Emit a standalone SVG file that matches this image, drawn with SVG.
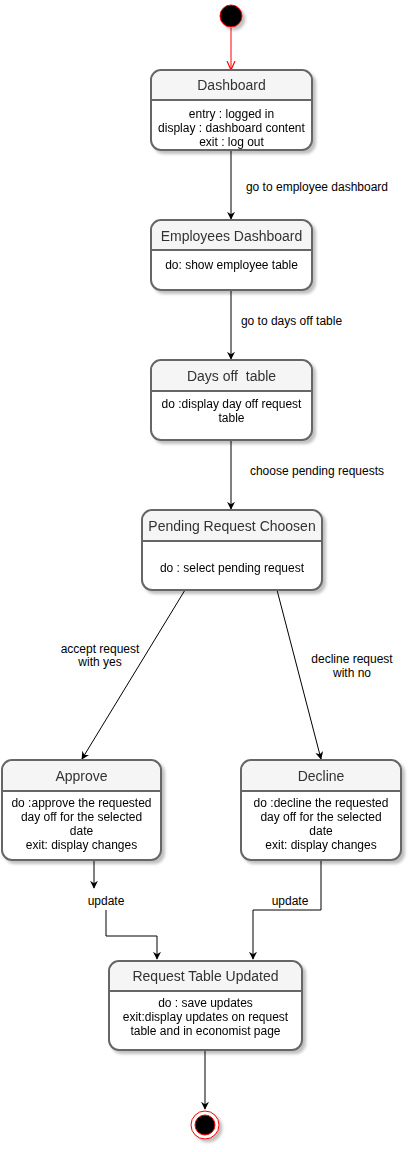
<svg xmlns="http://www.w3.org/2000/svg" width="413" height="1152" viewBox="0 0 413 1152">
<style>
.box{fill:#ffffff;stroke:#666666;stroke-width:2}
.hdr{fill:#f5f5f5;stroke:none}
.div{stroke:#666666;stroke-width:2}
.title{font-family:"Liberation Sans",Arial,sans-serif;font-size:14px;fill:#333333;text-anchor:middle;white-space:pre}
.body{font-family:"Liberation Sans",Arial,sans-serif;font-size:12px;fill:#000000;text-anchor:middle}
.lbl{font-family:"Liberation Sans",Arial,sans-serif;font-size:12px;fill:#000000;text-anchor:middle}
.edge{fill:none;stroke:#000000;stroke-width:1}
</style>
<defs>
<filter id="sh" x="-20%" y="-20%" width="150%" height="150%">
<feGaussianBlur in="SourceAlpha" stdDeviation="1.5"/>
<feOffset dx="3" dy="3" result="b"/>
<feComponentTransfer><feFuncA type="linear" slope="0.25"/></feComponentTransfer>
<feMerge><feMergeNode/><feMergeNode in="SourceGraphic"/></feMerge>
</filter>
<marker id="arr" viewBox="0 0 10 10" refX="9" refY="5" markerWidth="8" markerHeight="8" orient="auto" markerUnits="userSpaceOnUse">
<path d="M0,0 L10,5 L0,10 L3,5 Z" fill="#000000"/>
</marker>
<marker id="open" viewBox="0 0 10 10" refX="9" refY="5" markerWidth="10" markerHeight="10" orient="auto" markerUnits="userSpaceOnUse">
<path d="M0,1 L9,5 L0,9" fill="none" stroke="#ff0000" stroke-width="1.2"/>
</marker>
</defs>

<g id="connectors">
<line x1="231" y1="28" x2="231" y2="70" stroke="#ff0000" stroke-width="1" marker-end="url(#open)"/>
<line class="edge" x1="231" y1="150" x2="231" y2="219" marker-end="url(#arr)"/>
<text class="lbl" x="317" y="191">go to employee dashboard</text>
<line class="edge" x1="231" y1="290" x2="231" y2="359" marker-end="url(#arr)"/>
<text class="lbl" x="291.5" y="325">go to days off table</text>
<line class="edge" x1="231" y1="440" x2="231" y2="509" marker-end="url(#arr)"/>
<text class="lbl" x="317" y="475">choose pending requests</text>
<line class="edge" x1="185" y1="590" x2="82" y2="759" marker-end="url(#arr)"/>
<text class="lbl" x="100" y="653">accept request</text>
<text class="lbl" x="100" y="666">with yes</text>
<line class="edge" x1="277" y1="590" x2="321" y2="759" marker-end="url(#arr)"/>
<text class="lbl" x="352" y="663">decline request</text>
<text class="lbl" x="352" y="677">with no</text>
<line class="edge" x1="94" y1="860" x2="94" y2="888" marker-end="url(#arr)"/>
<text class="body" x="106" y="905">update</text>
<polyline class="edge" points="106,910 106,936 157,936 157,959" marker-end="url(#arr)"/>
<polyline class="edge" points="321,860 321,910 253,910 253,959" marker-end="url(#arr)"/>
<text class="body" x="290" y="905">update</text>
<line class="edge" x1="205" y1="1050" x2="205" y2="1109" marker-end="url(#arr)"/>
</g>

<g id="start">
<circle cx="231" cy="16" r="11" fill="#000000" stroke="#ff0000" stroke-width="1" filter="url(#sh)"/>
</g>

<g id="dashboard" filter="url(#sh)">
<rect class="box" x="151" y="70" width="161" height="80" rx="10"/>
<path class="hdr" d="M162,71 H301 A10,10 0 0 1 311,81 V99 H152 V81 A10,10 0 0 1 162,71 Z"/>
<line class="div" x1="151" y1="100" x2="312" y2="100"/>
<text class="title" x="231.5" y="90">Dashboard</text>
<text class="body" x="231.5" y="118">entry : logged in</text>
<text class="body" x="231.5" y="132">display : dashboard content</text>
<text class="body" x="231.5" y="146">exit : log out</text>
</g>

<g id="employees" filter="url(#sh)">
<rect class="box" x="151" y="220" width="161" height="70" rx="10"/>
<path class="hdr" d="M162,221 H301 A10,10 0 0 1 311,231 V249 H152 V231 A10,10 0 0 1 162,221 Z"/>
<line class="div" x1="151" y1="250" x2="312" y2="250"/>
<text class="title" x="231.5" y="241">Employees Dashboard</text>
<text class="body" x="231.5" y="269">do: show employee table</text>
</g>

<g id="daysoff" filter="url(#sh)">
<rect class="box" x="151" y="360" width="161" height="80" rx="10"/>
<path class="hdr" d="M162,361 H301 A10,10 0 0 1 311,371 V390 H152 V371 A10,10 0 0 1 162,361 Z"/>
<line class="div" x1="151" y1="391" x2="312" y2="391"/>
<text class="title" x="231.5" y="381" xml:space="preserve">Days off  table</text>
<text class="body" x="231.5" y="408">do :display day off request</text>
<text class="body" x="231.5" y="422">table</text>
</g>

<g id="pending" filter="url(#sh)">
<rect class="box" x="142" y="510" width="180" height="80" rx="10"/>
<path class="hdr" d="M153,511 H311 A10,10 0 0 1 321,521 V540 H143 V521 A10,10 0 0 1 153,511 Z"/>
<line class="div" x1="142" y1="541" x2="322" y2="541"/>
<text class="title" x="232" y="531">Pending Request Choosen</text>
<text class="body" x="232" y="572">do : select pending request</text>
</g>

<g id="approve" filter="url(#sh)">
<rect class="box" x="2" y="760" width="159" height="100" rx="10"/>
<path class="hdr" d="M13,761 H150 A10,10 0 0 1 160,771 V790 H3 V771 A10,10 0 0 1 13,761 Z"/>
<line class="div" x1="2" y1="791" x2="161" y2="791"/>
<text class="title" x="81.5" y="781">Approve</text>
<text class="body" x="81.5" y="807">do :approve the requested</text>
<text class="body" x="81.5" y="821">day off for the selected</text>
<text class="body" x="81.5" y="835">date</text>
<text class="body" x="81.5" y="849">exit: display changes</text>
</g>

<g id="decline" filter="url(#sh)">
<rect class="box" x="241" y="760" width="160" height="100" rx="10"/>
<path class="hdr" d="M252,761 H390 A10,10 0 0 1 400,771 V790 H242 V771 A10,10 0 0 1 252,761 Z"/>
<line class="div" x1="241" y1="791" x2="401" y2="791"/>
<text class="title" x="321" y="781">Decline</text>
<text class="body" x="321" y="807">do :decline the requested</text>
<text class="body" x="321" y="821">day off for the selected</text>
<text class="body" x="321" y="835">date</text>
<text class="body" x="321" y="849">exit: display changes</text>
</g>

<g id="updated" filter="url(#sh)">
<rect class="box" x="109" y="961" width="193" height="89" rx="10"/>
<path class="hdr" d="M120,962 H291 A10,10 0 0 1 301,972 V990 H110 V972 A10,10 0 0 1 120,962 Z"/>
<line class="div" x1="109" y1="991" x2="302" y2="991"/>
<text class="title" x="205.5" y="981">Request Table Updated</text>
<text class="body" x="205.5" y="1007">do : save updates</text>
<text class="body" x="205.5" y="1021">exit:display updates on request</text>
<text class="body" x="205.5" y="1035">table and in economist page</text>
</g>

<g id="end" filter="url(#sh)">
<circle cx="205" cy="1125" r="14" fill="#ffffff" stroke="#ff0000" stroke-width="1"/>
<circle cx="205" cy="1125" r="10" fill="#000000" stroke="#ff0000" stroke-width="1"/>
</g>
</svg>
